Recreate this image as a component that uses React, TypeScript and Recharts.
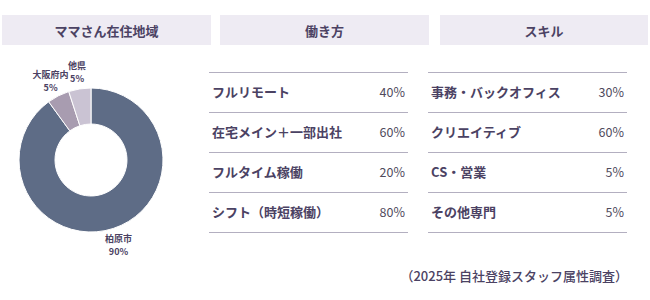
import React from "react";
import { PieChart, Pie, Cell } from "recharts";

const regionNames = ["柏原市", "大阪府内", "他県"];
const regionValues = [90, 5, 5];
const regionColors = ["#5E6C86", "#A89CB0", "#CAC3D3"];

const headerTitles = ["ママさん在住地域", "働き方", "スキル"];

const workLabels = ["フルリモート", "在宅メイン＋一部出社", "フルタイム稼働", "シフト（時短稼働）"];
const workValues = [40, 60, 20, 80];

const skillLabels = ["事務・バックオフィス", "クリエイティブ", "CS・営業", "その他専門"];
const skillValues = [30, 60, 5, 5];

const footnote = "（2025年 自社登録スタッフ属性調査）";

const FONT = "'Noto Sans CJK JP', 'Noto Sans', sans-serif";
const TEXT = "#4B4263";

const pieData = regionNames.map((name, i) => ({ name, value: regionValues[i] }));

const RADIAN = Math.PI / 180;

const renderLabel = (props: any) => {
  const { cx, cy, midAngle, name, value } = props;
  const r = 89;
  const x = cx + r * Math.cos(-midAngle * RADIAN);
  const y = cy + r * Math.sin(-midAngle * RADIAN);
  return (
    <text
      x={x}
      y={y}
      textAnchor="middle"
      fill={TEXT}
      fontSize={9}
      fontWeight={700}
      fontFamily={FONT}
    >
      <tspan x={x} dy={-3}>{name}</tspan>
      <tspan x={x} dy={13}>{value}%</tspan>
    </text>
  );
};

const headerBoxes = [
  { left: 2, width: 209 },
  { left: 220, width: 209 },
  { left: 440, width: 208 },
];

function Table({ left, labels, values }: { left: number; labels: string[]; values: number[] }) {
  return (
    <div style={{ position: "absolute", left, top: 72, width: 199 }}>
      {labels.map((l, i) => (
        <div
          key={l}
          style={{
            height: 36,
            paddingBottom: 3,
            borderTop: "1px solid #B3AFC0",
            borderBottom: i === labels.length - 1 ? "1px solid #B3AFC0" : undefined,
            display: "flex",
            alignItems: "center",
            justifyContent: "space-between",
            paddingLeft: 3,
            paddingRight: 3,
            boxSizing: "content-box",
          }}
        >
          <span style={{ fontSize: 13, fontWeight: 700, color: TEXT }}>{l}</span>
          <span style={{ fontSize: 12.5, fontWeight: 400, color: "#4F4A5C" }}>{values[i]}%</span>
        </div>
      ))}
    </div>
  );
}

export default function App() {
  return (
    <div
      style={{
        position: "absolute",
        left: 0,
        top: 0,
        width: 650,
        height: 300,
        background: "#fff",
        fontFamily: FONT,
        overflow: "hidden",
      }}
    >
      {headerBoxes.map((b, i) => (
        <div
          key={i}
          style={{
            position: "absolute",
            left: b.left,
            top: 15,
            width: b.width,
            height: 30,
            background: "#EEEBF3",
            display: "flex",
            alignItems: "center",
            justifyContent: "center",
            fontSize: 13,
            fontWeight: 700,
            color: TEXT,
          }}
        >
          {headerTitles[i]}
        </div>
      ))}
      <div style={{ position: "absolute", left: 0, top: 0 }}>
        <PieChart width={200} height={300} margin={{ top: 0, right: 0, bottom: 0, left: 0 }}>
          <Pie
            data={pieData}
            dataKey="value"
            nameKey="name"
            cx={91}
            cy={160}
            innerRadius={36}
            outerRadius={72}
            startAngle={90}
            endAngle={-270}
            stroke="#fff"
            strokeWidth={1}
            label={renderLabel}
            labelLine={false}
            isAnimationActive={false}
          >
            {pieData.map((d, i) => (
              <Cell key={d.name} fill={regionColors[i]} />
            ))}
          </Pie>
        </PieChart>
      </div>
      <Table left={209} labels={workLabels} values={workValues} />
      <Table left={428} labels={skillLabels} values={skillValues} />
      <div
        style={{
          position: "absolute",
          right: 22,
          top: 266,
          fontSize: 13,
          fontWeight: 500,
          color: TEXT,
          whiteSpace: "nowrap",
        }}
      >
        {footnote}
      </div>
    </div>
  );
}
